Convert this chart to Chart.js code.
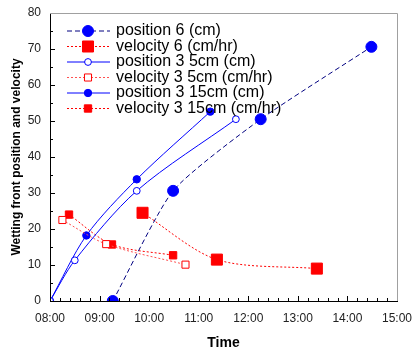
<!DOCTYPE html>
<html>
<head>
<meta charset="utf-8">
<script src="https://cdn.jsdelivr.net/npm/chart.js@4/dist/chart.umd.min.js"></script>
<style>
    html, body { margin: 0; padding: 0; background: #fff; }
</style>
</head>
<body>
<canvas id="wettingChart" width="415" height="348"></canvas>
<script>
// Readings (time of day, value)
const pos6Times = ['09:16', '10:29', '12:15', '14:29'];
const pos6Values = [0, 30.6, 50.5, 70.6];

const vel6Times = ['09:52', '11:22', '13:23'];
const vel6Values = [24.5, 11.5, 9.0];

const pos35Times = ['08:00', '08:30', '09:45', '11:45'];
const pos35Values = [0, 11.3, 30.6, 50.5];

const vel35Times = ['08:15', '09:08', '10:44'];
const vel35Values = [22.5, 15.8, 10.1];

const pos315Times = ['08:00', '08:44', '09:45', '11:14'];
const pos315Values = [0, 18.2, 33.8, 52.6];

const vel315Times = ['08:23', '09:15', '10:29'];
const vel315Values = [24.0, 15.7, 12.7];

const xTickHours = [8, 9, 10, 11, 12, 13, 14, 15];
const yTickValues = [0, 10, 20, 30, 40, 50, 60, 70, 80];

const FONT = "'Liberation Sans', Arial, sans-serif";

function toHours(t) {
    const parts = t.split(':');
    return parseInt(parts[0], 10) + parseInt(parts[1], 10) / 60;
}

function points(times, values) {
    return times.map((t, i) => ({ x: toHours(t), y: values[i] }));
}

function hourLabel(h) {
    return (h < 10 ? '0' : '') + h + ':00';
}

// inward tick marks + grey top/right frame
const frameTicks = {
    id: 'frameTicks',
    afterDatasetsDraw(chart) {
        const ctx = chart.ctx;
        const a = chart.chartArea;
        const x = chart.scales.x;
        const y = chart.scales.y;
        ctx.save();
        ctx.strokeStyle = '#a0a0a0';
        ctx.lineWidth = 1;
        ctx.beginPath();
        ctx.moveTo(a.left, a.top + 0.5);
        ctx.lineTo(a.right + 0.5, a.top + 0.5);
        ctx.lineTo(a.right + 0.5, a.bottom);
        ctx.stroke();

        ctx.strokeStyle = '#000';
        ctx.beginPath();
        for (let i = 0; i < xTickHours.length - 1; i++) {
            for (let k = 0; k < 5; k++) {
                const px = Math.round(x.getPixelForValue(xTickHours[i] + k * 0.2)) + 0.5;
                const len = k === 0 ? 5 : 3;
                ctx.moveTo(px, a.bottom);
                ctx.lineTo(px, a.bottom - len);
            }
        }
        for (let i = 0; i < yTickValues.length - 1; i++) {
            for (let k = 0; k < 2; k++) {
                const py = Math.round(y.getPixelForValue(yTickValues[i] + k * 5)) + 0.5;
                const len = k === 0 ? 5 : 3;
                ctx.moveTo(a.left, py);
                ctx.lineTo(a.left + len, py);
            }
        }
        ctx.stroke();
        ctx.restore();
    }
};

// legend with line + marker like the original
const lineLegend = {
    id: 'lineLegend',
    afterDraw(chart) {
        const ctx = chart.ctx;
        ctx.save();
        chart.data.datasets.forEach((ds, i) => {
            const cy = 31 + i * 15.5;
            ctx.strokeStyle = ds.borderColor;
            ctx.lineWidth = ds.borderWidth;
            ctx.setLineDash(ds.borderDash || []);
            ctx.beginPath();
            ctx.moveTo(67, cy);
            ctx.lineTo(110, cy);
            ctx.stroke();
            ctx.setLineDash([]);

            const r = ds.pointRadius;
            ctx.fillStyle = ds.pointBackgroundColor;
            ctx.strokeStyle = ds.pointBorderColor;
            ctx.lineWidth = ds.pointBorderWidth;
            ctx.beginPath();
            if (ds.pointStyle === 'rect') {
                const s = r * Math.SQRT1_2;
                ctx.rect(88 - s, cy - s, 2 * s, 2 * s);
            } else {
                ctx.arc(88, cy, r, 0, Math.PI * 2);
            }
            ctx.fill();
            ctx.stroke();

            ctx.fillStyle = '#000';
            ctx.font = '16px ' + FONT;
            ctx.textBaseline = 'middle';
            ctx.textAlign = 'left';
            ctx.fillText(ds.label, 116, cy);
        });
        ctx.restore();
    }
};

function buildDatasets() {
    return [
        {
            label: 'position 6 (cm)',
            data: points(pos6Times, pos6Values),
            borderColor: '#000080',
            borderWidth: 1,
            borderDash: [5, 3],
            tension: 0.2,
            pointStyle: 'circle',
            pointRadius: 5.5,
            pointBackgroundColor: '#0000ff',
            pointBorderColor: '#0000ff',
            pointBorderWidth: 1
        },
        {
            label: 'velocity 6 (cm/hr)',
            data: points(vel6Times, vel6Values),
            borderColor: '#ff0000',
            borderWidth: 1,
            borderDash: [2, 2],
            tension: 0.3,
            pointStyle: 'rect',
            pointRadius: 7.8,
            pointBackgroundColor: '#ff0000',
            pointBorderColor: '#ff0000',
            pointBorderWidth: 1
        },
        {
            label: 'position 3 5cm (cm)',
            data: points(pos35Times, pos35Values),
            borderColor: '#0000ff',
            borderWidth: 1,
            tension: 0.3,
            pointStyle: 'circle',
            pointRadius: 3.4,
            pointBackgroundColor: '#ffffff',
            pointBorderColor: '#0000ff',
            pointBorderWidth: 1
        },
        {
            label: 'velocity 3 5cm (cm/hr)',
            data: points(vel35Times, vel35Values),
            borderColor: '#ff5050',
            borderWidth: 1,
            borderDash: [2, 2],
            tension: 0.3,
            pointStyle: 'rect',
            pointRadius: 5,
            pointBackgroundColor: '#ffffff',
            pointBorderColor: '#ff0000',
            pointBorderWidth: 1
        },
        {
            label: 'position 3 15cm (cm)',
            data: points(pos315Times, pos315Values),
            borderColor: '#0000ff',
            borderWidth: 1,
            tension: 0.3,
            pointStyle: 'circle',
            pointRadius: 3.7,
            pointBackgroundColor: '#0000ff',
            pointBorderColor: '#0000ff',
            pointBorderWidth: 1
        },
        {
            label: 'velocity 3 15cm (cm/hr)',
            data: points(vel315Times, vel315Values),
            borderColor: '#ff0000',
            borderWidth: 1,
            borderDash: [2, 2],
            tension: 0.3,
            pointStyle: 'rect',
            pointRadius: 5.2,
            pointBackgroundColor: '#ff0000',
            pointBorderColor: '#ff0000',
            pointBorderWidth: 1
        }
    ];
}

Chart.defaults.font.family = FONT;

const ctx = document.getElementById('wettingChart').getContext('2d');
window.wettingChart = new Chart(ctx, {
    type: 'line',
    data: { datasets: buildDatasets() },
    options: {
        responsive: false,
        animation: false,
        devicePixelRatio: 1,
        layout: { padding: { top: 13, right: 18, left: 0, bottom: 0 } },
        plugins: {
            legend: { display: false },
            tooltip: { enabled: false }
        },
        scales: {
            x: {
                type: 'linear',
                min: xTickHours[0],
                max: xTickHours[xTickHours.length - 1],
                afterFit: scale => {
                    scale.height = 47;
                    scale.paddingLeft = 0;
                    scale.paddingRight = 0;
                },
                afterBuildTicks: scale => {
                    scale.ticks = xTickHours.map(v => ({ value: v }));
                },
                ticks: {
                    callback: v => hourLabel(v),
                    font: { size: 12 },
                    color: '#222',
                    padding: 10,
                    maxRotation: 0
                },
                grid: { display: false, drawTicks: false },
                border: { display: true, color: '#000', width: 1 },
                title: {
                    display: true,
                    text: 'Time',
                    color: '#000',
                    font: { size: 14, weight: 'bold', lineHeight: 1 },
                    padding: { top: 0, bottom: -2 }
                }
            },
            y: {
                min: yTickValues[0],
                max: yTickValues[yTickValues.length - 1],
                afterFit: scale => {
                    scale.width = 50;
                    scale.paddingTop = 0;
                    scale.paddingBottom = 0;
                },
                afterBuildTicks: scale => {
                    scale.ticks = yTickValues.map(v => ({ value: v }));
                },
                ticks: {
                    font: { size: 12 },
                    color: '#222',
                    padding: 9
                },
                grid: { display: false, drawTicks: false },
                border: { display: true, color: '#000', width: 1 },
                title: {
                    display: true,
                    text: 'Wetting front position and velocity',
                    color: '#000',
                    font: { size: 12, weight: 'bold' },
                    padding: { top: 9, bottom: 0 }
                }
            }
        }
    },
    plugins: [frameTicks, lineLegend]
});
</script>
</body>
</html>
